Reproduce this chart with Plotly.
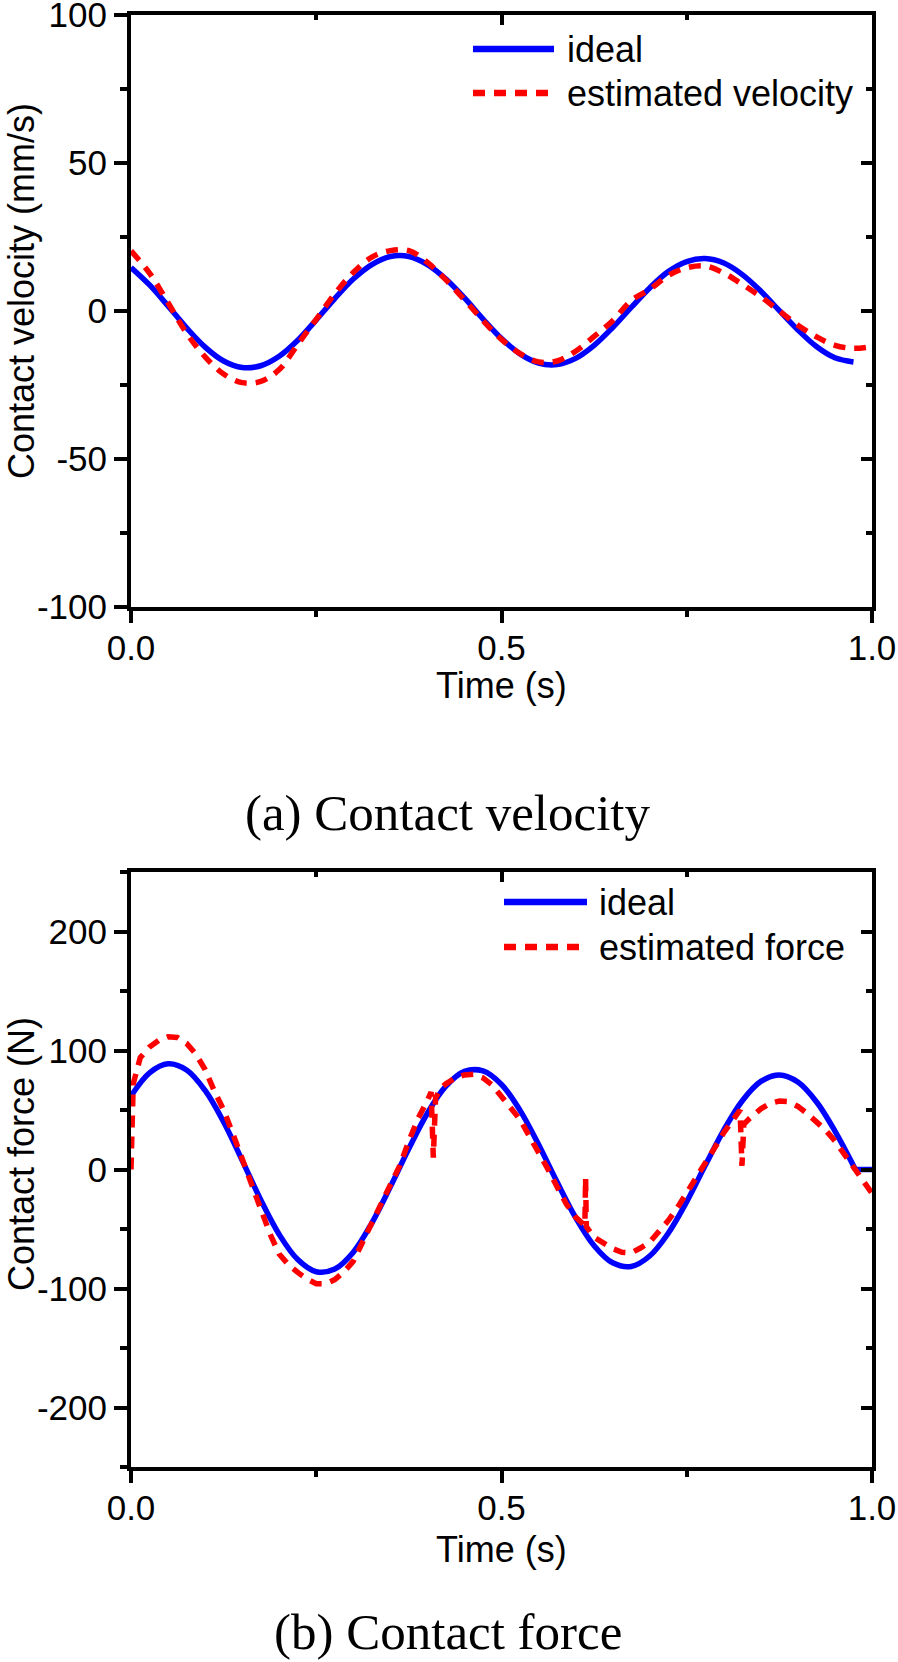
import plotly.graph_objects as go

# ---------------- (a) Contact velocity ----------------
t_vel = [0.000, 0.025, 0.050, 0.075, 0.100, 0.125, 0.150, 0.175, 0.200, 0.225,
         0.250, 0.275, 0.300, 0.325, 0.350, 0.375, 0.400, 0.425, 0.450, 0.475,
         0.500, 0.525, 0.550, 0.575, 0.600, 0.625, 0.650, 0.675, 0.700, 0.725,
         0.750, 0.775, 0.800, 0.825, 0.850, 0.875, 0.900, 0.925, 0.950, 0.975]
vel_ideal = [14.7, 8.8, 1.7, -5.7, -12.2, -16.9, -19.1, -18.5, -15.3, -9.9,
             -3.0, 4.2, 10.8, 15.7, 18.4, 18.4, 15.7, 10.8, 4.4, -2.7,
             -9.3, -14.5, -17.6, -18.1, -16.0, -11.6, -5.6, 1.2, 7.8, 13.3,
             16.7, 17.7, 16.2, 12.3, 6.7, 0.1, -6.4, -12.0, -15.8, -17.2]

t_vel_est = t_vel + [1.000]
vel_est = [20.3, 12.8, 2.8, -7.5, -15.5, -21.3, -24.2, -23.8, -19.8, -11.3,
           -2.8, 5.8, 13.0, 18.2, 20.4, 20.4, 16.4, 10.5, 3.8, -3.2,
           -9.6, -14.4, -17.2, -16.9, -13.6, -8.6, -3.3, 3.5, 7.3, 12.0,
           14.6, 15.2, 12.8, 9.0, 4.8, 0.0, -4.8, -8.7, -11.6, -12.6, -12.0]

# ---------------- (b) Contact force ----------------
t_force = t_vel + [0.9775]
force_ideal = [61.7, 81.2, 88.8, 83.6, 66.4, 39.9, 7.7, -25.4, -54.6, -75.7,
               -85.9, -83.7, -69.5, -45.0, -14.6, 17.7, 47.3, 70.0, 82.4, 82.8,
               71.4, 49.7, 21.0, -10.5, -40.3, -64.0, -78.4, -81.5, -72.7, -53.6,
               -27.0, 3.5, 33.1, 57.8, 74.0, 79.4, 73.5, 56.9, 32.3, 3.2, 0.0]
t_force_tail = [0.9775, 1.000]
force_ideal_tail = [0.0, 0.0]

t_force_est = [0.0, 0.003, 0.0125, 0.025, 0.0375, 0.05, 0.0625, 0.075, 0.0875, 0.1,
               0.1125, 0.125, 0.1375, 0.15, 0.1625, 0.175, 0.1875, 0.2, 0.2125, 0.225,
               0.2375, 0.25, 0.2625, 0.275, 0.2875, 0.3, 0.3125, 0.325, 0.3375, 0.35,
               0.3625, 0.375, 0.3875, 0.4, 0.405, 0.408, 0.411, 0.4175, 0.425, 0.4375,
               0.45, 0.4625, 0.475, 0.4875, 0.5, 0.5125, 0.525, 0.5375, 0.55, 0.5625,
               0.575, 0.5875, 0.6, 0.6125, 0.6135, 0.6145, 0.625, 0.6375, 0.65, 0.6625,
               0.675, 0.6875, 0.7, 0.7125, 0.725, 0.7375, 0.75, 0.7625, 0.775, 0.7875,
               0.8, 0.8125, 0.822, 0.8245, 0.827, 0.835, 0.85, 0.8625, 0.875, 0.8875,
               0.9, 0.9125, 0.925, 0.9375, 0.95, 0.9625, 0.975, 0.9875, 1.0]
force_est = [0, 72, 94, 103, 108.5, 111.5, 111, 106, 97, 84,
             66, 50, 30, 9, -11, -33, -54, -71, -80, -86.5,
             -92, -96, -96, -92.5, -86, -77, -61, -45, -31, -13,
             3, 24, 43, 58, 65, 10, 60, 68, 72, 77,
             79.5, 80, 77, 71, 61, 52, 42, 28, 13, 0.5,
             -14.5, -29, -40, -47, -7, -48, -57, -62, -66.5, -69.5,
             -70, -66, -61, -52, -43, -32, -20, -7, 6, 18,
             31, 43, 50, 3, 38, 43, 51, 55.5, 57.5, 57,
             53, 47, 40, 33, 24, 12, 2, -9, -20]

# ---------------- ticks / labels ----------------
time_ticks = [0.0, 0.5, 1.0]
time_ticklabels = ["0.0", "0.5", "1.0"]
vel_ticks = [-100, -50, 0, 50, 100]
vel_ticklabels = ["-100", "-50", "0", "50", "100"]
force_ticks = [-200, -100, 0, 100, 200]
force_ticklabels = ["-200", "-100", "0", "100", "200"]

series_names = ["ideal", "estimated velocity", "estimated force"]
x_title = "Time (s)"
y_titles = ["Contact velocity (mm/s)", "Contact force (N)"]
captions = ["(a) Contact velocity", "(b) Contact force"]

assert len(t_vel) == len(vel_ideal)
assert len(t_vel_est) == len(vel_est)
assert len(t_force) == len(force_ideal)
assert len(t_force_est) == len(force_est)

# ---------------- styling ----------------
W, H = 898, 1662
SANS = "Liberation Sans, Arial, Helvetica, sans-serif"
SERIF = "Liberation Serif, Times New Roman, serif"
BLUE = "#0000FF"
RED = "#FF0000"
DASH = "12px,9px"
LW = 5.5


def px(x):
    return x / W


def py(y):
    return 1 - y / H


x_dom = [px(131), px(872)]
y_dom_a = [py(607), py(15)]
y_dom_b = [py(1467), py(872)]

fig = go.Figure()

# (a)
fig.add_trace(go.Scatter(x=t_vel, y=vel_ideal, mode="lines", name=series_names[0],
                         line=dict(color=BLUE, width=LW, shape="spline"),
                         xaxis="x", yaxis="y", showlegend=False))
fig.add_trace(go.Scatter(x=t_vel_est, y=vel_est, mode="lines", name=series_names[1],
                         line=dict(color=RED, width=LW, dash=DASH, shape="spline"),
                         xaxis="x", yaxis="y", showlegend=False))
# (b)
fig.add_trace(go.Scatter(x=t_force, y=force_ideal, mode="lines", name=series_names[0],
                         line=dict(color=BLUE, width=LW, shape="spline"),
                         xaxis="x2", yaxis="y2", showlegend=False))
fig.add_trace(go.Scatter(x=t_force_tail, y=force_ideal_tail, mode="lines", name=series_names[0],
                         line=dict(color=BLUE, width=LW),
                         xaxis="x2", yaxis="y2", showlegend=False))
fig.add_trace(go.Scatter(x=t_force_est, y=force_est, mode="lines", name=series_names[2],
                         line=dict(color=RED, width=LW, dash=DASH),
                         xaxis="x2", yaxis="y2", showlegend=False))

# empty traces so the mirrored (inside-tick) axes are drawn
fig.add_trace(go.Scatter(x=[None], y=[None], xaxis="x3", yaxis="y3",
                         showlegend=False, hoverinfo="skip"))
fig.add_trace(go.Scatter(x=[None], y=[None], xaxis="x4", yaxis="y4",
                         showlegend=False, hoverinfo="skip"))

tickfont = dict(family=SANS, size=35, color="black")
common = dict(showgrid=False, zeroline=False, showline=True, linewidth=4,
              linecolor="black", tickwidth=4, tickcolor="black", tickfont=tickfont,
              automargin=False, ticklabeloverflow="allow")


def xmain(anchor):
    return dict(common, domain=x_dom, anchor=anchor, range=[0, 1],
                tickmode="array", tickvals=time_ticks, ticktext=time_ticklabels,
                ticks="outside", ticklen=12, ticklabelstandoff=-5,
                minor=dict(tickmode="linear", tick0=0, dtick=0.25, ticks="outside",
                           ticklen=6, tickwidth=4, tickcolor="black"))


def xmirror(over, anchor):
    return dict(common, overlaying=over, anchor=anchor, side="top", range=[0, 1],
                tickmode="array", tickvals=time_ticks, showticklabels=False,
                ticks="inside", ticklen=10,
                minor=dict(tickmode="linear", tick0=0, dtick=0.25, ticks="inside",
                           ticklen=5, tickwidth=4, tickcolor="black"))


def ymain(dom, anchor, rng, vals, text, mdt):
    return dict(common, domain=dom, anchor=anchor, range=rng,
                tickmode="array", tickvals=vals, ticktext=text,
                ticks="outside", ticklen=13,
                minor=dict(tickmode="linear", tick0=0, dtick=mdt, ticks="outside",
                           ticklen=7, tickwidth=4, tickcolor="black"))


def ymirror(over, anchor, rng, vals, mdt):
    return dict(common, overlaying=over, anchor=anchor, side="right", range=rng,
                tickmode="array", tickvals=vals, showticklabels=False,
                ticks="inside", ticklen=11,
                minor=dict(tickmode="linear", tick0=0, dtick=mdt, ticks="inside",
                           ticklen=6, tickwidth=4, tickcolor="black"))


annotations = []


def text_ann(s, x, y, size, family=SANS, xanchor="center", angle=0):
    annotations.append(dict(text=s, x=px(x), y=py(y), xref="paper", yref="paper",
                            xanchor=xanchor, yanchor="middle", showarrow=False,
                            textangle=angle, font=dict(family=family, size=size, color="black")))


# axis titles
text_ann(x_title, 502, 686, 36)
text_ann(x_title, 502, 1549, 36)
text_ann(y_titles[0], 21, 291, 36, angle=-90)
text_ann(y_titles[1], 21, 1154, 36, angle=-90)
# captions
text_ann(captions[0], 448, 813, 51, family=SERIF)
text_ann(captions[1], 448, 1632, 51, family=SERIF)
# legends
text_ann(series_names[0], 565, 49.5, 36, xanchor="left")
text_ann(series_names[1], 565, 94, 36, xanchor="left")
text_ann(series_names[0], 597, 902.5, 36, xanchor="left")
text_ann(series_names[2], 597, 947.5, 36, xanchor="left")

shapes = []


def legend_line(x0, x1, y, color, dash=None):
    shapes.append(dict(type="line", xref="paper", yref="paper",
                       x0=px(x0), x1=px(x1), y0=py(y), y1=py(y),
                       line=dict(color=color, width=6.5, dash=dash)))


legend_line(473, 554, 49, BLUE)
legend_line(473, 554, 93, RED, DASH)
legend_line(504, 587, 902, BLUE)
legend_line(504, 587, 947, RED, DASH)

fig.update_layout(
    template="none",
    width=W, height=H, autosize=False,
    margin=dict(l=0, r=0, t=0, b=0, pad=0, autoexpand=False),
    paper_bgcolor="white", plot_bgcolor="white",
    showlegend=False,
    xaxis=xmain("y"),
    yaxis=ymain(y_dom_a, "x", [-100, 100], vel_ticks, vel_ticklabels, 25),
    xaxis3=xmirror("x", "y"),
    yaxis3=ymirror("y", "x", [-100, 100], vel_ticks, 25),
    xaxis2=xmain("y2"),
    yaxis2=ymain(y_dom_b, "x2", [-250, 250], force_ticks, force_ticklabels, 50),
    xaxis4=xmirror("x2", "y2"),
    yaxis4=ymirror("y2", "x2", [-250, 250], force_ticks, 50),
    annotations=annotations,
    shapes=shapes,
)

# remove the browser's default 8px page margin so the figure sits at (0, 0)
fig.write_html("out.html",
               config={"displayModeBar": False},
               post_script="document.body.style.margin='0px';document.body.style.padding='0px';")
